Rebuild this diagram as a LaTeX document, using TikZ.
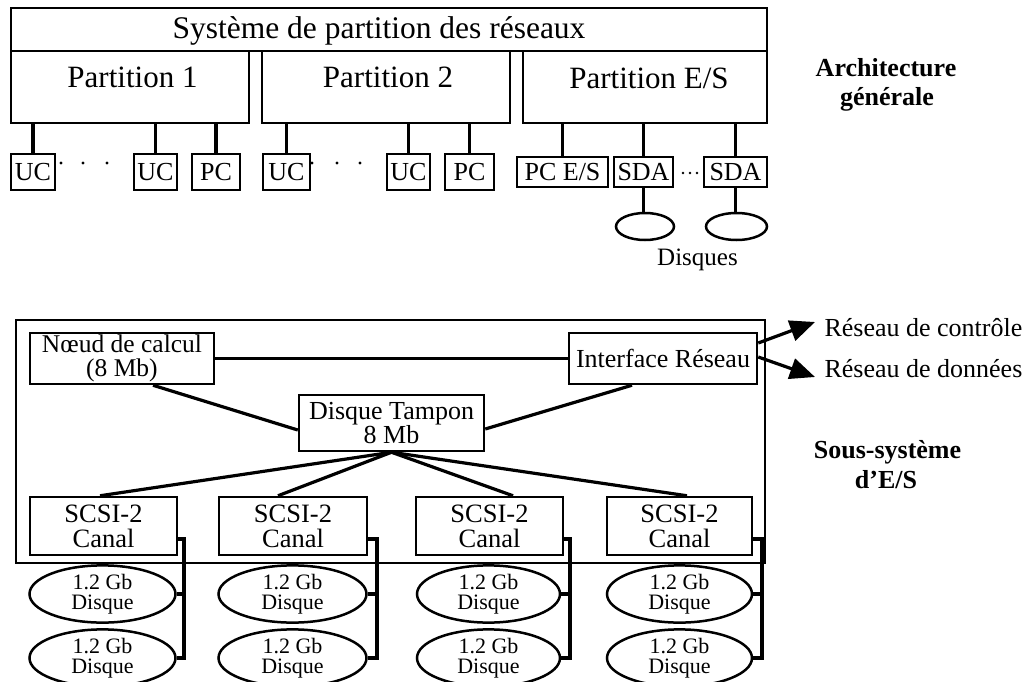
\documentclass[tikz,border=0pt]{standalone}
\usepackage{fontspec}
\setmainfont{Liberation Serif}
\usetikzlibrary{shapes.geometric,arrows.meta,calc}
\begin{document}
\begin{tikzpicture}[x=1pt,y=-1pt,
  box/.style={draw,line width=2.5pt,inner sep=0pt,align=center},
  conn/.style={line width=3.2pt},
  disk/.style={draw,ellipse,line width=2.5pt,inner sep=0pt,align=center,font=\fontsize{22}{20.5}\selectfont},
  fbig/.style={font=\fontsize{31}{31}\selectfont},
  fmid/.style={font=\fontsize{26}{22.5}\selectfont},
  fscsi/.style={font=\fontsize{26.5}{25}\selectfont},
  fbold/.style={font=\fontsize{26}{30}\selectfont\bfseries},
  arr/.style={line width=3.2pt,-{Triangle[length=25pt,width=21pt]}}
]
\useasboundingbox (0,0) rectangle (1031,682);

% ---------- Architecture generale ----------
\node[box,minimum width=756pt,minimum height=43pt] (sys) at (389,29.5) {};
\node[fbig,anchor=base,font=\fontsize{31.5}{31}\selectfont] (sysT) at (379,39) {Système de partition des réseaux};

\node[box,minimum width=238pt,minimum height=72pt] (p1) at (130,87) {};
\node[fbig,anchor=base] (p1T) at (132.5,88) {Partition 1};
\node[box,minimum width=248pt,minimum height=72pt] (p2) at (386,87) {};
\node[fbig,anchor=base] (p2T) at (388,88) {Partition 2};
\node[box,minimum width=244pt,minimum height=72pt] (p3) at (645,87) {};
\node[fbig,anchor=base] (p3T) at (649,89) {Partition E/S};

\node[box,fmid,minimum width=44pt,minimum height=36pt] (u11) at (33,172) {UC};
\node[box,fmid,minimum width=43pt,minimum height=36pt] (u12) at (155.5,172) {UC};
\node[box,fmid,minimum width=48pt,minimum height=36pt] (pc1) at (216,172) {PC};
\node[box,fmid,minimum width=47pt,minimum height=36pt] (u21) at (286.5,172) {UC};
\node[box,fmid,minimum width=43pt,minimum height=36pt] (u22) at (408.5,172) {UC};
\node[box,fmid,minimum width=49pt,minimum height=36pt] (pc2) at (469.5,172) {PC};
\node[box,fmid,minimum width=91pt,minimum height=30pt] (pces) at (562.5,172) {PC E/S};
\node[box,fmid,minimum width=59pt,minimum height=30pt] (sda1) at (643.5,172) {SDA};
\node[box,fmid,minimum width=63pt,minimum height=30pt] (sda2) at (735.5,172) {SDA};

\foreach \n in {u11,u12,pc1}{\draw[conn] (p1.south -| \n.north) -- (\n.north);}
\foreach \n in {u21,u22,pc2}{\draw[conn] (p2.south -| \n.north) -- (\n.north);}
\foreach \n in {pces,sda1,sda2}{\draw[conn] (p3.south -| \n.north) -- (\n.north);}

\foreach \x in {61,83,107,312,337,360}{\fill (\x,163) circle (1.6pt);}
\foreach \x in {683,690,697}{\fill (\x,173) circle (1.3pt);}

\node[draw,ellipse,line width=2.5pt,inner sep=0pt,minimum width=58pt,minimum height=27pt] (e1) at (645,226.5) {};
\node[draw,ellipse,line width=2.5pt,inner sep=0pt,minimum width=61pt,minimum height=27pt] (e2) at (736.5,226.5) {};
\draw[conn] (sda1.south) -- (sda1.south |- e1.north);
\draw[conn] (sda2.south) -- (sda2.south |- e2.north);
\node[fmid,anchor=base,font=\fontsize{25}{20}\selectfont] (disques) at (697.5,265) {Disques};

\node[fbold,anchor=base] (arch1) at (886,77) {Architecture};
\node[fbold,anchor=base] (arch2) at (887,106) {générale};

% ---------- Sous-systeme d'E/S ----------
\node[box,minimum width=749pt,minimum height=243pt] (ios) at (390.5,441.5) {};

\node[box,font=\fontsize{25.5}{24}\selectfont,minimum width=184pt,minimum height=51pt] (nc) at (122,358.5) {Nœud de calcul\\(8 Mb)};
\node[box,fmid,minimum width=188pt,minimum height=51pt] (ir) at (663,358.5) {Interface Réseau};
\node[box,fmid,minimum width=185pt,minimum height=56pt] (dt) at (391.5,423) {Disque Tampon\\8 Mb};

\draw[conn] (nc.east) -- (ir.west);
\draw[conn] ([xshift=31pt]nc.south) -- ([yshift=-7pt]dt.west);
\draw[conn] ([yshift=-6pt]dt.east) -- ([xshift=-31pt]ir.south);

\coordinate (c1) at (815,322);
\coordinate (c2) at (815,377);
\draw[arr] ([yshift=15.5pt]ir.east) -- (c1);
\draw[arr] ([yshift=1.5pt]ir.east) -- (c2);
\node[fmid,anchor=base west] (rc) at (821,336) {Réseau de contrôle};
\node[fmid,anchor=base west] (rd) at (821,377) {Réseau de données};

\node[fbold,anchor=base] (ss1) at (887.5,458) {Sous-système};
\node[fbold,anchor=base] (ss2) at (886,488) {d’E/S};

\node[box,fscsi,minimum width=147pt,minimum height=58pt] (s1) at (103.5,526) {SCSI-2\\Canal};
\node[box,fscsi,minimum width=148pt,minimum height=58pt] (s2) at (293,526) {SCSI-2\\Canal};
\node[box,fscsi,minimum width=147pt,minimum height=58pt] (s3) at (489.5,526) {SCSI-2\\Canal};
\node[box,fscsi,minimum width=145pt,minimum height=58pt] (s4) at (679.5,526) {SCSI-2\\Canal};

\draw[conn] (dt.south) -- ([xshift=-3.5pt]s1.north);
\draw[conn] (dt.south) -- ([xshift=-15pt]s2.north);
\draw[conn] (dt.south) -- ([xshift=23.5pt]s3.north);
\draw[conn] (dt.south) -- ([xshift=7.5pt]s4.north);

\node[disk,minimum width=146pt,minimum height=44pt] (d11) at (102.5,594) {1.2 Gb\\Disque};
\node[disk,minimum width=146pt,minimum height=44pt] (d12) at (102.5,658) {1.2 Gb\\Disque};
\node[disk,minimum width=148pt,minimum height=44pt] (d21) at (292.5,594) {1.2 Gb\\Disque};
\node[disk,minimum width=148pt,minimum height=44pt] (d22) at (292.5,658) {1.2 Gb\\Disque};
\node[disk,minimum width=143pt,minimum height=44pt] (d31) at (488.5,594) {1.2 Gb\\Disque};
\node[disk,minimum width=143pt,minimum height=44pt] (d32) at (488.5,658) {1.2 Gb\\Disque};
\node[disk,minimum width=145pt,minimum height=44pt] (d41) at (679.5,594) {1.2 Gb\\Disque};
\node[disk,minimum width=145pt,minimum height=44pt] (d42) at (679.5,658) {1.2 Gb\\Disque};

\coordinate (b1) at (184,0);
\coordinate (b2) at (377,0);
\coordinate (b3) at (570,0);
\coordinate (b4) at (762,0);
\foreach \i in {1,2,3,4}{
  \draw[conn] ([yshift=-13pt]s\i.east) -| (b\i |- d\i2.east) -- (d\i2.east);
  \draw[conn] (d\i1.east) -- (b\i |- d\i1.east);
}
\end{tikzpicture}
\end{document}
